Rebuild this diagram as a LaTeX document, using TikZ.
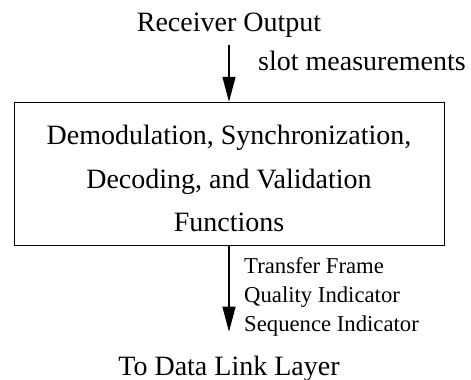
\documentclass[tikz,border=0pt]{standalone}
\usepackage{fontspec}
\setmainfont{Liberation Serif}
\usetikzlibrary{arrows.meta,positioning}
\tikzset{
  bigtext/.style={font=\fontsize{28}{43.3}\selectfont, inner sep=0pt},
  smalltext/.style={font=\fontsize{22.7}{28.9}\selectfont, inner sep=0pt},
  funcbox/.style={draw, line width=1pt, minimum width=430pt, minimum height=143pt, inner sep=0pt, align=center,
    font=\fontsize{28}{43.3}\selectfont},
  flow/.style={line width=1.2pt, -{Triangle[length=25pt,width=13pt]}}
}
\begin{document}
\begin{tikzpicture}[x=1pt,y=-1pt]
  \useasboundingbox (0,0) rectangle (471,380);
  \node[bigtext, anchor=base] (recv) at (229,31.7) {Receiver Output};
  \coordinate (recvout) at (229,45);
  \node[funcbox] (fn) at (229,173.8) {\rule{0pt}{29pt}Demodulation, Synchronization,\\ Decoding, and Validation\\ Functions};
  \coordinate (dll) at (229,331.7);
  \node[bigtext, anchor=base] (todll) at (229,375) {To Data Link Layer};
  \node[bigtext, anchor=base west] (slot) at (258,70) {slot measurements};
  \draw[flow] (recvout) -- (fn.north);
  \draw[flow] (fn.south) -- (dll);
  \node[smalltext, align=left, anchor=base west] (outs) at (244,331.7) {Transfer Frame\\ Quality Indicator\\ Sequence Indicator};
\end{tikzpicture}
\end{document}
